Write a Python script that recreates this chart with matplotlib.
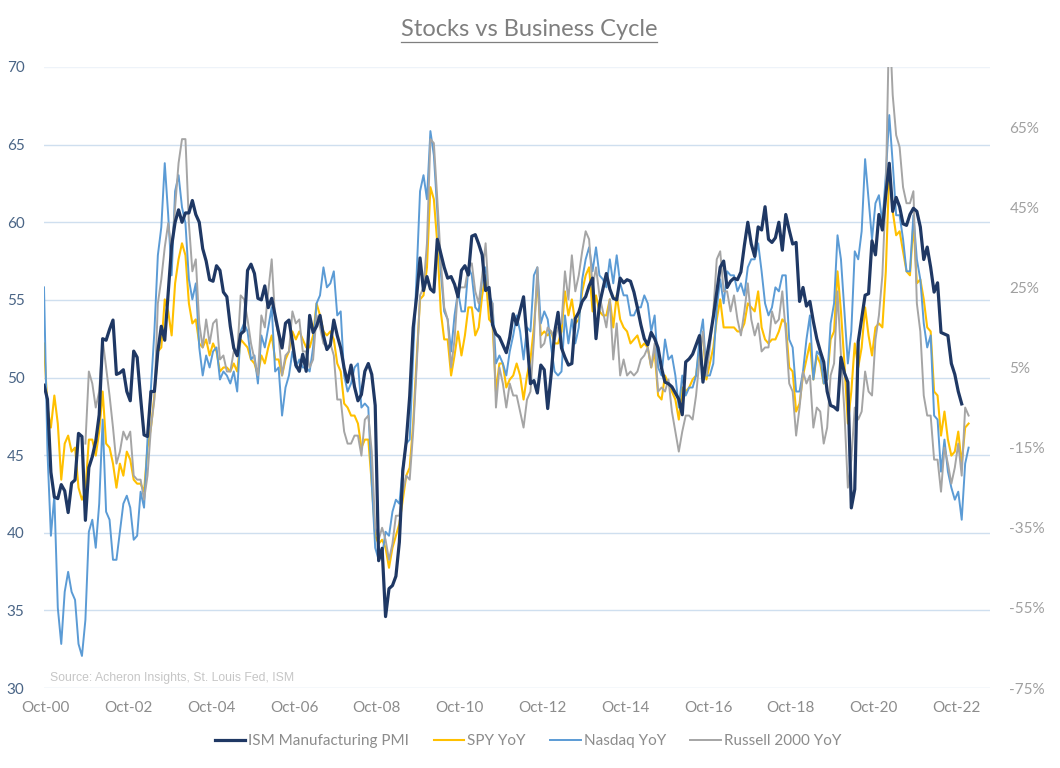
import numpy as np
import matplotlib
matplotlib.use("Agg")
import matplotlib.pyplot as plt
from matplotlib.lines import Line2D

# monthly, Oct-2000 onwards
ism_pmi = [49.5, 48.6, 43.9, 42.3, 42.2, 43.1, 42.7, 41.3, 43.2, 43.4, 46.4, 46.2, 40.8, 44.2, 44.9, 45.9, 47.6,
           52.5, 52.4, 53.1, 53.7, 50.2, 50.3, 50.5, 49.1, 48.5, 51.7, 51.3, 48.7, 46.3, 46.2, 49.1, 49.1, 51.7,
           53.3, 52.4, 55.5, 58.5, 60.0, 60.8, 60.0, 60.6, 60.6, 61.4, 60.5, 60.0, 58.3, 57.5, 56.3, 56.2, 57.2,
           56.9, 55.5, 55.2,
           53.3, 51.9, 51.4, 52.8, 53.0, 56.9, 57.3, 56.7, 55.1, 55.0, 55.9, 54.5, 55.1, 54.0, 52.9, 51.9, 53.5,
           53.7, 52.3, 50.8, 50.4, 51.5, 50.4, 54.0, 52.9, 53.3, 54.0, 52.7, 51.8, 52.1,
           53.7, 52.7, 51.9, 50.6, 49.7, 50.8, 49.4, 48.5, 48.9, 50.4, 50.9, 50.2, 48.2,
           38.2, 39.0, 34.6, 36.4, 36.6, 37.2, 39.4, 44.0, 45.9, 48.8, 53.2, 55.2, 57.7, 55.6, 56.5, 55.7, 55.5,
           58.9, 58.0, 57.1, 56.4, 56.5, 56.0, 55.2, 56.9, 57.2, 56.6, 59.1, 59.2, 58.6, 57.9, 55.6, 55.8, 53.4,
           52.8, 52.6, 52.1, 51.6, 52.6, 54.1, 53.4,
           54.3, 55.2, 52.5, 49.6, 49.8, 49.0, 50.8, 50.5, 48.0, 50.2, 52.9, 54.2, 51.9, 51.3, 50.8, 50.9, 53.8,
           54.2, 54.9, 55.2, 55.9, 56.4, 52.5, 54.7, 55.7, 56.7, 55.7, 55.1, 55.0, 56.4, 56.1, 56.3, 56.2, 55.5,
           54.5, 53.4, 52.5, 52.1, 52.9, 52.5, 51.9, 50.6, 49.7, 49.6, 49.4, 49.0, 48.6,
           47.6, 51.0, 51.2, 51.5, 52.1, 52.7, 49.7, 51.2, 52.5, 53.9, 55.5, 57.1, 57.5, 55.8, 56.2, 56.4, 56.3,
           56.8, 58.5, 60.0, 58.6, 57.8, 59.7, 59.5, 61.0, 58.9, 58.7, 59.0, 60.0, 58.2, 60.5, 59.5, 58.6, 58.7,
           54.9, 55.8, 54.6, 54.9, 53.6, 52.5, 51.7, 51.0, 49.1, 48.2, 48.1,
           47.9, 51.3, 50.3, 49.7, 41.6, 42.8, 52.3, 53.8, 55.3, 55.4, 58.8, 57.9, 60.5, 59.5, 61.8, 63.8, 60.7,
           61.6, 61.0, 59.9, 59.8, 60.5, 60.9, 60.7, 59.7, 57.6, 58.4, 57.1, 55.5, 56.1, 52.9, 52.8, 52.7, 50.9,
           50.2, 49.1, 48.3]

spy_yoy = [11, -5, -10, -2, -9, -23, -14, -12, -16, -15, -25, -28, -26, -13, -13, -17, -11, -1, -14, -15, -19,
           -25, -19, -22, -16, -18, -23, -24, -24, -26, -15, -10, -2, 9, 10, 22, 19, 13, 26, 32, 36, 33, 21, 16,
           17, 11, 10, 12, 8, 11, 9, 4, 5, 5, 4, 6, 4, 12, 11, 10, 7, 6, 3, 8, 6, 10, 13, 7, 7, 3, 7, 9, 14, 12,
           14, 12, 10, 10, 13, 21, 18, 14, 13, 14, 12, 6, 4, -4, -5, -7, -7, -9, -15, -13, -13, -24, -37, -39,
           -38, -40, -45, -40, -37, -34, -28, -22, -20, -9, 7, 22, 23, 30, 50, 47, 36, 19, 12, 12, 3, 8, 14, 8,
           13, 20, 20, 13, 15, 23, 28, 17, 16, -1, 6, 6, 0, 2, 3, 6, 3, -3, 3, 7, 15, 27, 13, 14, 13, 14, 11, 11,
           14, 24, 18, 22, 16, 17, 24, 28, 30, 19, 23, 19, 18, 18, 22, 15, 23, 17, 15, 14, 11, 12, 13, 10, 11,
           10, 5, 9, -2, -3, 3, 1, -1, -3, -8, 0, -1, 0, 2, 3, 10, 13, 2, 6, 10, 17, 22, 15, 15, 15, 15, 14, 14,
           16, 21, 20, 19, 24, 15, 12, 11, 12, 12, 14, 17, 16, 5, 4, -6, -4, 3, 7, 11, 2, 8, 6, 1, 2, 12, 14, 29,
           19, 6, -9, -1, 11, 5, 10, 20, 13, 8, 15, 16, 15, 29, 54, 44, 38, 39, 34, 29, 28, 41, 26, 27, 22, 15,
           14, -1, -2, -12, -6, -13, -17, -16, -11, -19, -10, -9]

nasdaq_yoy = [25, -16, -37, -27, -55, -64, -51, -46, -51, -53, -64, -67, -58, -36, -33, -40, -29, -8, -31, -33,
              -43, -43, -36, -29, -27, -30, -38, -37, -26, -30, -13, 0, 14, 33, 40, 56, 43, 28, 49, 53, 45, 41,
              27, 22, 26, 10, 3, 8, 5, 9, 10, 2, 4, 3, 1, 4, -1, 14, 16, 14, 7, 8, 1, 13, 10, 15, 20, 4, 5, -7, 0,
              3, 9, 5, 7, 5, 5, 4, 10, 21, 23, 30, 25, 26, 29, 18, 19, 3, -1, 1, 5, 6, -5, -4, -5, -24, -40, -43,
              -42, -36, -37, -31, -28, -29, -20, -14, -13, 8, 28, 49, 53, 47, 64, 58, 44, 29, 19, 17, 9, 18, 24,
              19, 19, 30, 28, 20, 19, 27, 30, 23, 21, 6, 8, 6, 3, 9, 13, 18, 14, 7, 15, 14, 28, 30, 16, 19, 17, 10,
              4, 3, 4, 18, 11, 17, 11, 15, 27, 32, 35, 29, 35, 28, 27, 25, 32, 26, 33, 26, 23, 23, 18, 18, 20, 20,
              23, 21, 14, 18, 5, 3, 12, 7, 8, 3, -5, 3, -2, 0, 0, 3, 12, 17, 3, 3, 6, 20, 27, 21, 29, 28, 28, 24,
              26, 23, 30, 32, 32, 36, 29, 21, 18, 20, 25, 24, 28, 28, 12, 10, -1, -1, 4, 12, 18, 2, 9, 8, 1, 2, 16,
              21, 38, 32, 19, 6, 14, 34, 32, 39, 57, 47, 37, 46, 48, 41, 53, 68, 56, 43, 43, 37, 29, 29, 43, 32,
              27, 16, 10, 13, -7, -8, -21, -13, -21, -25, -28, -26, -33, -19, -15]

# Russell series only begins in Oct-2001
russell_start = 12
russell_yoy = [-14, 4, 1, -5, -1, 12, 5, -2, -10, -19, -16, -11, -13, -11, -22, -23, -23, -28, -22, -10, -3, 21,
               27, 35, 41, 34, 45, 56, 62, 62, 41, 29, 32, 16, 10, 17, 11, 16, 17, 7, 8, 4, 4, 9, 8, 23, 22, 17,
               11, 7, 3, 18, 15, 24, 32, 17, 13, 3, 8, 9, 19, 16, 17, 9, 9, 5, 7, 18, 15, 11, 10, 11, 8, -3, -3,
               -11, -14, -14, -12, -12, -17, -8, -7, -16, -35, -38, -35, -38, -43, -39, -32, -32, -26, -22, -23,
               -11, 5, 23, 25, 36, 62, 61, 47, 32, 20, 17, 5, 12, 25, 25, 25, 30, 31, 24, 21, 28, 36, 22, 21, -5,
               5, 1, -5, 1, -2, -2, -6, -10, -3, -1, 12, 30, 10, 11, 15, 14, 12, 15, 16, 29, 22, 33, 24, 28, 34,
               39, 37, 25, 30, 23, 19, 15, 22, 7, 16, 3, 7, 3, 4, 3, 4, 7, 8, 10, 5, 11, -1, 0, -1, 2, -6, -11,
               -16, -11, -7, -7, -8, -2, 7, 14, 3, 10, 19, 32, 34, 24, 24, 19, 23, 17, 13, 19, 26, 17, 13, 16, 9,
               10, 10, 19, 16, 17, 24, 14, 1, -1, -12, -5, 4, 1, 3, -10, -5, -6, -14, -10, 3, 6, 24, 8, -6, -25,
               -18, -5, -8, -6, 4, -1, -2, 12, 18, 28, 49, 93, 73, 63, 60, 50, 46, 46, 49, 21, 14, -2, -7, -7, -18,
               -18, -26, -15, -19, -24, -20, -14, -22, -5, -7]

x_labels = ['Oct-00', 'Oct-02', 'Oct-04', 'Oct-06', 'Oct-08', 'Oct-10',
            'Oct-12', 'Oct-14', 'Oct-16', 'Oct-18', 'Oct-20', 'Oct-22']

plt.rcParams['font.family'] = ['Lato', 'DejaVu Sans']

fig = plt.figure(figsize=(10.6, 7.68), dpi=100)
ax = fig.add_axes([44 / 1060, 1 - 688 / 768, 946 / 1060, 621 / 768])
ax_st = ax.twinx()
ax_pmi = ax.twinx()

n_months = 274.2

# base axes: gridlines, left labels, dates
ax.set_ylim(30, 70)
ax.set_yticks(range(30, 71, 5))
for v in range(30, 71, 5):
    ax.axhline(v, color='#EEF3F9' if v == 70 else '#CFDFEF', lw=1.0, zorder=0)
ax.tick_params(axis='y', length=0, pad=14, labelsize=11, labelcolor='#4A6586')
ax.set_xlim(0, n_months)
ax.set_xticks([0.5 + 24 * i for i in range(len(x_labels))])
ax.set_xticklabels(x_labels)
ax.tick_params(axis='x', length=0, pad=9, labelsize=11, labelcolor='#8C8C8C')

# stock YoY lines on the right axis
months = np.arange(len(spy_yoy))
ax_st.plot(months, spy_yoy, color='#FFC000', lw=1.5, label='SPY YoY')
ax_st.plot(np.arange(len(nasdaq_yoy)), nasdaq_yoy, color='#5B9BD5', lw=1.4, label='Nasdaq YoY')
ax_st.plot(np.arange(russell_start, russell_start + len(russell_yoy)), russell_yoy,
           color='#A5A5A5', lw=1.4, label='Russell 2000 YoY')
ax_st.set_ylim(-75, 80)
ax_st.set_yticks(range(-75, 66, 20))
ax_st.set_yticklabels([f'{t}%' for t in range(-75, 66, 20)])
ax_st.tick_params(axis='y', length=0, pad=14, labelsize=11, labelcolor='#A0A0A0')
ax_st.set_xlim(0, n_months)

# PMI on top
ax_pmi.plot(np.arange(len(ism_pmi)), ism_pmi, color='#1F3864', lw=2.3, label='ISM Manufacturing PMI')
ax_pmi.set_ylim(30, 70)
ax_pmi.set_yticks([])
ax_pmi.set_xlim(0, n_months)

for a in (ax, ax_st, ax_pmi):
    for sp in a.spines.values():
        sp.set_visible(False)

ax.text(0.006, 0.006, 'Source: Acheron Insights, St. Louis Fed, ISM', transform=ax.transAxes,
        family='Liberation Sans', fontsize=8.8, color='#C6C6C6', va='bottom', ha='left')

title = fig.text(529 / 1060, 1 - 29 / 768, 'Stocks vs Business Cycle', ha='center', va='center',
                 fontsize=17, color='#7F7F7F')

handles = ax_pmi.get_lines() + ax_st.get_lines()
fig.legend(handles, [h.get_label() for h in handles], loc='center',
           bbox_to_anchor=(528 / 1060, 1 - 741 / 768), ncol=4, frameon=False,
           fontsize=11, handlelength=2.0, handletextpad=0.2, columnspacing=1.6,
           labelcolor='#8C8C8C')

# underline the title
fig.canvas.draw()
bb = title.get_window_extent(fig.canvas.get_renderer())
W, H = fig.bbox.width, fig.bbox.height
fig.add_artist(Line2D([bb.x0 / W, bb.x1 / W], [(bb.y0 - 2) / H] * 2, color='#7F7F7F', lw=0.9))

fig.savefig('out.png', dpi=100)
